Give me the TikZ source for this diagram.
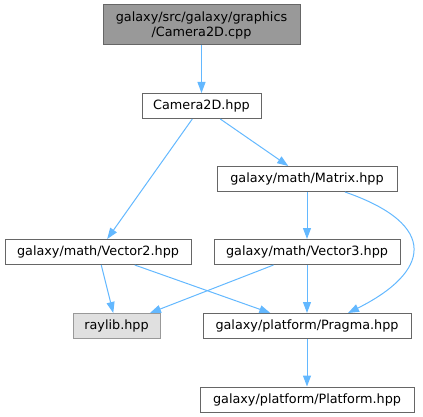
\documentclass[tikz,border=0pt]{standalone}
\usepackage{fontspec}
\setmainfont{DejaVu Sans}
\usetikzlibrary{arrows.meta}
\definecolor{edgec}{HTML}{63B8FF}
\definecolor{boxb}{HTML}{666666}
\definecolor{rootf}{HTML}{999999}
\definecolor{extf}{HTML}{E0E0E0}
\definecolor{extb}{HTML}{999999}
\begin{document}
\begin{tikzpicture}[x=1pt,y=-1pt,
  filebox/.style={draw=boxb,line width=1pt,fill=white,inner sep=0pt,
    font=\fontsize{12.8}{15}\selectfont,align=center,minimum height=25pt},
  rootbox/.style={filebox,fill=rootf,minimum height=40pt},
  extbox/.style={filebox,fill=extf,draw=extb},
  dep/.style={draw=edgec,line width=1pt,-{Triangle[length=11pt,width=8pt]}}]
\useasboundingbox (0,0) rectangle (423,417);
\node[rootbox,minimum width=197pt] (cpp) at (201.5,25) {galaxy/src/galaxy/graphics\\/Camera2D.cpp};
\node[filebox,minimum width=119pt] (cam) at (201.5,106) {Camera2D.hpp};
\node[filebox,minimum width=180pt] (mat) at (307,179) {galaxy/math/Matrix.hpp};
\node[filebox,minimum width=186pt] (v2) at (98,252) {galaxy/math/Vector2.hpp};
\node[filebox,minimum width=186pt] (v3) at (307,252) {galaxy/math/Vector3.hpp};
\node[extbox,minimum width=87pt] (ray) at (116.5,326) {raylib.hpp};
\node[filebox,minimum width=208pt] (prag) at (307,326) {galaxy/platform/Pragma.hpp};
\node[filebox,minimum width=214pt] (plat) at (307,399.5) {galaxy/platform/Platform.hpp};
\draw[dep] (cpp) -- (cam);
\draw[dep] (cam) -- (v2);
\draw[dep] (cam) -- (mat);
\draw[dep] (mat) -- (v3);
\draw[dep] (mat.south -| 345,0) .. controls (440,225) and (430,272) .. (prag.north -| 348,0);
\draw[dep] (v2) -- (ray);
\draw[dep] (v2) -- (prag);
\draw[dep] (v3) -- (ray);
\draw[dep] (v3) -- (prag);
\draw[dep] (prag) -- (plat);
\end{tikzpicture}
\end{document}
